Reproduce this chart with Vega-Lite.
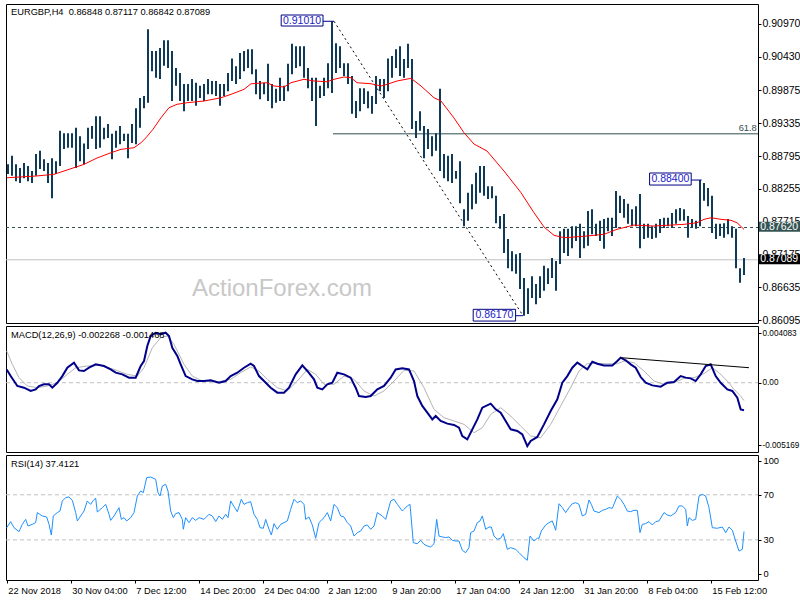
{
"$schema":"https://vega.github.io/schema/vega-lite/v6.json",
"padding":{"left":2,"top":3,"right":0,"bottom":0},
"background":"white",
"spacing":3,
"bounds":"flush",
"config":{"view":{"stroke":"#000","strokeWidth":1},"font":"Liberation Sans","axis":{"labelFont":"Liberation Sans","labelColor":"#000","tickColor":"#000","domain":false,"grid":false,"title":null,"labelFlush":false,"labelOverlap":false}},
"datasets":{
"bars":[{"k":0,"v":0.885,"v2":0.8866},{"k":1,"v":0.8847,"v2":0.888},{"k":2,"v":0.8838,"v2":0.8866},{"k":3,"v":0.8835,"v2":0.886},{"k":4,"v":0.8843,"v2":0.8868},{"k":5,"v":0.8838,"v2":0.8863},{"k":6,"v":0.8835,"v2":0.8855},{"k":7,"v":0.8847,"v2":0.8883},{"k":8,"v":0.8858,"v2":0.8888},{"k":9,"v":0.8855,"v2":0.8874},{"k":10,"v":0.8835,"v2":0.8868},{"k":11,"v":0.881,"v2":0.8876},{"k":12,"v":0.885,"v2":0.8871},{"k":13,"v":0.8863,"v2":0.8921},{"k":14,"v":0.8891,"v2":0.8917},{"k":15,"v":0.8893,"v2":0.8917},{"k":16,"v":0.8893,"v2":0.8917},{"k":17,"v":0.886,"v2":0.8926},{"k":18,"v":0.8871,"v2":0.8912},{"k":19,"v":0.8866,"v2":0.89},{"k":20,"v":0.8891,"v2":0.8926},{"k":21,"v":0.8908,"v2":0.8929},{"k":22,"v":0.8891,"v2":0.8945},{"k":23,"v":0.8893,"v2":0.8945},{"k":24,"v":0.8907,"v2":0.8926},{"k":25,"v":0.8909,"v2":0.8932},{"k":26,"v":0.8874,"v2":0.8916},{"k":27,"v":0.8893,"v2":0.8921},{"k":28,"v":0.8899,"v2":0.8929},{"k":29,"v":0.8904,"v2":0.8916},{"k":30,"v":0.8876,"v2":0.8916},{"k":31,"v":0.8901,"v2":0.8932},{"k":32,"v":0.8899,"v2":0.8958},{"k":33,"v":0.8926,"v2":0.8975},{"k":34,"v":0.8958,"v2":0.8978},{"k":35,"v":0.8967,"v2":0.9088},{"k":36,"v":0.9019,"v2":0.9052},{"k":37,"v":0.9008,"v2":0.9052},{"k":38,"v":0.9006,"v2":0.9057},{"k":39,"v":0.9028,"v2":0.907},{"k":40,"v":0.9024,"v2":0.907},{"k":41,"v":0.897,"v2":0.9052},{"k":42,"v":0.8995,"v2":0.9024},{"k":43,"v":0.897,"v2":0.9016},{"k":44,"v":0.8953,"v2":0.8998},{"k":45,"v":0.897,"v2":0.8998},{"k":46,"v":0.897,"v2":0.9006},{"k":47,"v":0.8962,"v2":0.9},{"k":48,"v":0.8975,"v2":0.8995},{"k":49,"v":0.897,"v2":0.8998},{"k":50,"v":0.8981,"v2":0.9006},{"k":51,"v":0.8981,"v2":0.9003},{"k":52,"v":0.8978,"v2":0.9003},{"k":53,"v":0.8962,"v2":0.8998},{"k":54,"v":0.8978,"v2":0.8998},{"k":55,"v":0.8986,"v2":0.9016},{"k":56,"v":0.9003,"v2":0.904},{"k":57,"v":0.8998,"v2":0.9027},{"k":58,"v":0.9006,"v2":0.9049},{"k":59,"v":0.9019,"v2":0.9052},{"k":60,"v":0.9024,"v2":0.9055},{"k":61,"v":0.9014,"v2":0.9055},{"k":62,"v":0.8981,"v2":0.9022},{"k":63,"v":0.8973,"v2":0.9003},{"k":64,"v":0.8981,"v2":0.9},{"k":65,"v":0.897,"v2":0.9031},{"k":66,"v":0.8958,"v2":0.8998},{"k":67,"v":0.8967,"v2":0.899},{"k":68,"v":0.897,"v2":0.9008},{"k":69,"v":0.897,"v2":0.8995},{"k":70,"v":0.8986,"v2":0.9031},{"k":71,"v":0.9014,"v2":0.9064},{"k":72,"v":0.9024,"v2":0.906},{"k":73,"v":0.9027,"v2":0.906},{"k":74,"v":0.9008,"v2":0.906},{"k":75,"v":0.8991,"v2":0.9024},{"k":76,"v":0.897,"v2":0.9008},{"k":77,"v":0.8929,"v2":0.9008},{"k":78,"v":0.8975,"v2":0.8995},{"k":79,"v":0.8978,"v2":0.9008},{"k":80,"v":0.8991,"v2":0.9032},{"k":81,"v":0.8983,"v2":0.9101},{"k":82,"v":0.9016,"v2":0.9065},{"k":83,"v":0.9024,"v2":0.906},{"k":84,"v":0.9011,"v2":0.9032},{"k":85,"v":0.8998,"v2":0.9032},{"k":86,"v":0.8949,"v2":0.9011},{"k":87,"v":0.8942,"v2":0.897},{"k":88,"v":0.8953,"v2":0.8991},{"k":89,"v":0.8965,"v2":0.8991},{"k":90,"v":0.8958,"v2":0.8986},{"k":91,"v":0.8949,"v2":0.8978},{"k":92,"v":0.8965,"v2":0.9011},{"k":93,"v":0.8986,"v2":0.9006},{"k":94,"v":0.8975,"v2":0.9006},{"k":95,"v":0.8986,"v2":0.904},{"k":96,"v":0.9008,"v2":0.9044},{"k":97,"v":0.9024,"v2":0.9055},{"k":98,"v":0.9011,"v2":0.906},{"k":99,"v":0.9008,"v2":0.9039},{"k":100,"v":0.9024,"v2":0.9064},{"k":101,"v":0.8924,"v2":0.9039},{"k":102,"v":0.8909,"v2":0.8937},{"k":103,"v":0.8921,"v2":0.8953},{"k":104,"v":0.8876,"v2":0.8929},{"k":105,"v":0.8891,"v2":0.8924},{"k":106,"v":0.8879,"v2":0.8912},{"k":107,"v":0.8888,"v2":0.8917},{"k":108,"v":0.8855,"v2":0.899},{"k":109,"v":0.8843,"v2":0.8883},{"k":110,"v":0.8838,"v2":0.888},{"k":111,"v":0.8835,"v2":0.8883},{"k":112,"v":0.8842,"v2":0.8855},{"k":113,"v":0.8802,"v2":0.8871},{"k":114,"v":0.8764,"v2":0.8792},{"k":115,"v":0.8773,"v2":0.8819},{"k":116,"v":0.8792,"v2":0.8833},{"k":117,"v":0.8801,"v2":0.8852},{"k":118,"v":0.8819,"v2":0.8863},{"k":119,"v":0.8814,"v2":0.8863},{"k":120,"v":0.8809,"v2":0.883},{"k":121,"v":0.881,"v2":0.883},{"k":122,"v":0.8769,"v2":0.8814},{"k":123,"v":0.876,"v2":0.8781},{"k":124,"v":0.872,"v2":0.8784},{"k":125,"v":0.8695,"v2":0.8743},{"k":126,"v":0.869,"v2":0.8723},{"k":127,"v":0.8686,"v2":0.8718},{"k":128,"v":0.8661,"v2":0.872},{"k":129,"v":0.8617,"v2":0.8679},{"k":130,"v":0.862,"v2":0.8662},{"k":131,"v":0.8646,"v2":0.8682},{"k":132,"v":0.8636,"v2":0.8669},{"k":133,"v":0.8646,"v2":0.8682},{"k":134,"v":0.8658,"v2":0.8699},{"k":135,"v":0.8669,"v2":0.8695},{"k":136,"v":0.8679,"v2":0.8712},{"k":137,"v":0.8658,"v2":0.8707},{"k":138,"v":0.8702,"v2":0.8756},{"k":139,"v":0.872,"v2":0.876},{"k":140,"v":0.8715,"v2":0.876},{"k":141,"v":0.8728,"v2":0.8764},{"k":142,"v":0.874,"v2":0.8764},{"k":143,"v":0.8712,"v2":0.8768},{"k":144,"v":0.8728,"v2":0.8756},{"k":145,"v":0.8732,"v2":0.8789},{"k":146,"v":0.8751,"v2":0.8792},{"k":147,"v":0.8748,"v2":0.8768},{"k":148,"v":0.874,"v2":0.8773},{"k":149,"v":0.8727,"v2":0.8776},{"k":150,"v":0.8756,"v2":0.8778},{"k":151,"v":0.8748,"v2":0.8778},{"k":152,"v":0.8761,"v2":0.8822},{"k":153,"v":0.8786,"v2":0.8814},{"k":154,"v":0.8778,"v2":0.8809},{"k":155,"v":0.8768,"v2":0.8801},{"k":156,"v":0.8764,"v2":0.8792},{"k":157,"v":0.8764,"v2":0.8797},{"k":158,"v":0.8728,"v2":0.8817},{"k":159,"v":0.8743,"v2":0.8768},{"k":160,"v":0.8745,"v2":0.8768},{"k":161,"v":0.8743,"v2":0.8764},{"k":162,"v":0.8745,"v2":0.8768},{"k":163,"v":0.8753,"v2":0.8776},{"k":164,"v":0.8761,"v2":0.8778},{"k":165,"v":0.8764,"v2":0.8778},{"k":166,"v":0.8761,"v2":0.8786},{"k":167,"v":0.8768,"v2":0.8792},{"k":168,"v":0.8773,"v2":0.8794},{"k":169,"v":0.8773,"v2":0.8792},{"k":170,"v":0.8745,"v2":0.8781},{"k":171,"v":0.8761,"v2":0.8776},{"k":172,"v":0.876,"v2":0.8773},{"k":173,"v":0.8764,"v2":0.884},{"k":174,"v":0.8806,"v2":0.8835},{"k":175,"v":0.8797,"v2":0.8827},{"k":176,"v":0.8753,"v2":0.8814},{"k":177,"v":0.8743,"v2":0.8768},{"k":178,"v":0.8748,"v2":0.8768},{"k":179,"v":0.8745,"v2":0.8769},{"k":180,"v":0.8751,"v2":0.8776},{"k":181,"v":0.8745,"v2":0.8764},{"k":182,"v":0.8695,"v2":0.876},{"k":183,"v":0.8671,"v2":0.8695},{"k":184,"v":0.8684,"v2":0.8712}],
"ma":[{"k":-0.25,"v":0.88438},{"k":7,"v":0.88466},{"k":11.5,"v":0.88494},{"k":19,"v":0.88658},{"k":22.25,"v":0.88762},{"k":25.75,"v":0.88849},{"k":28.25,"v":0.88905},{"k":31.5,"v":0.88931},{"k":33.25,"v":0.89014},{"k":34.5,"v":0.89096},{"k":36.25,"v":0.89234},{"k":38.25,"v":0.89425},{"k":40.25,"v":0.89589},{"k":42.25,"v":0.89645},{"k":44.75,"v":0.89671},{"k":49,"v":0.89699},{"k":53.25,"v":0.89753},{"k":55.75,"v":0.89809},{"k":59,"v":0.89891},{"k":60.75,"v":0.89983},{"k":64.75,"v":0.9},{"k":66.5,"v":0.89946},{"k":69,"v":0.89929},{"k":70.75,"v":0.9},{"k":74,"v":0.90056},{"k":76.5,"v":0.90028},{"k":79.75,"v":0.90016},{"k":81.5,"v":0.90056},{"k":84,"v":0.90094},{"k":85.75,"v":0.90082},{"k":87.25,"v":0.9},{"k":90.75,"v":0.89983},{"k":93.25,"v":0.89946},{"k":94.75,"v":0.89974},{"k":97.25,"v":0.90028},{"k":100.75,"v":0.90072},{"k":103.25,"v":0.89946},{"k":106.5,"v":0.89753},{"k":108.25,"v":0.89699},{"k":111.5,"v":0.8942},{"k":114,"v":0.89178},{"k":116.5,"v":0.88992},{"k":119.75,"v":0.88877},{"k":124,"v":0.88548},{"k":128.25,"v":0.88192},{"k":131.5,"v":0.87863},{"k":134,"v":0.87628},{"k":136.5,"v":0.87491},{"k":139,"v":0.87452},{"k":141.5,"v":0.87463},{"k":144.75,"v":0.8748},{"k":149,"v":0.87508},{"k":152.25,"v":0.8759},{"k":156.5,"v":0.8766},{"k":161.5,"v":0.87644},{"k":165.75,"v":0.8766},{"k":169,"v":0.87672},{"k":172.25,"v":0.87698},{"k":174,"v":0.87754},{"k":175.75,"v":0.8778},{"k":178.25,"v":0.87754},{"k":180.75,"v":0.87738},{"k":182.25,"v":0.87698},{"k":184,"v":0.8759}],
"macd":[{"k":-0.33,"v":0.0011},{"k":0.67,"v":0.00055},{"k":2.33,"v":-0.00027},{"k":4,"v":-0.00041},{"k":5.67,"v":-0.00068},{"k":6.92,"v":-0.00055},{"k":7.75,"v":-0.00027},{"k":9,"v":-0.00013},{"k":10.25,"v":-0.00013},{"k":11.08,"v":-0.00041},{"k":12.33,"v":0},{"k":13.58,"v":0.00055},{"k":14.83,"v":0.00124},{"k":16.5,"v":0.00166},{"k":17.75,"v":0.00102},{"k":19,"v":0.00097},{"k":20.25,"v":0.00124},{"k":21.92,"v":0.00152},{"k":24,"v":0.00138},{"k":25.67,"v":0.0011},{"k":26.92,"v":0.00083},{"k":28.58,"v":0.00069},{"k":30.25,"v":0.00042},{"k":31.92,"v":0.00042},{"k":33.17,"v":0.00138},{"k":34,"v":0.00179},{"k":34.83,"v":0.00303},{"k":35.67,"v":0.00386},{"k":36.92,"v":0.00413},{"k":38.17,"v":0.004},{"k":39.42,"v":0.00413},{"k":40.25,"v":0.00386},{"k":41.08,"v":0.00289},{"k":42.33,"v":0.00221},{"k":43.17,"v":0.00152},{"k":44.42,"v":0.00055},{"k":46.08,"v":0.00028},{"k":47.33,"v":0.00014},{"k":49,"v":0.00014},{"k":50.67,"v":0.0002},{"k":52.75,"v":0},{"k":54.42,"v":0.00014},{"k":55.67,"v":0.00055},{"k":57.33,"v":0.00083},{"k":59,"v":0.00124},{"k":60.67,"v":0.00157},{"k":61.5,"v":0.00138},{"k":62.75,"v":0.00055},{"k":64,"v":0.00014},{"k":65.67,"v":-0.00041},{"k":67.33,"v":-0.00082},{"k":69,"v":-0.00082},{"k":70.25,"v":-0.00041},{"k":71.92,"v":0.00069},{"k":73.58,"v":0.00143},{"k":74.83,"v":0.00097},{"k":76.5,"v":0.00028},{"k":77.33,"v":-0.00041},{"k":78.58,"v":-0.00055},{"k":79.83,"v":-0.00013},{"k":81.08,"v":0},{"k":82.33,"v":0.00083},{"k":84,"v":0.00069},{"k":85.67,"v":0.00042},{"k":86.92,"v":-0.00041},{"k":87.75,"v":-0.0011},{"k":89.42,"v":-0.00118},{"k":90.67,"v":-0.0011},{"k":92.33,"v":-0.00055},{"k":94,"v":-0.00027},{"k":95.67,"v":0.00042},{"k":96.92,"v":0.0011},{"k":98.58,"v":0.00119},{"k":100.25,"v":0.0011},{"k":101.5,"v":0.00014},{"k":102.33,"v":-0.0011},{"k":103.58,"v":-0.00192},{"k":104.83,"v":-0.00247},{"k":106.08,"v":-0.00303},{"k":106.92,"v":-0.00275},{"k":108.17,"v":-0.00316},{"k":109.83,"v":-0.00338},{"k":111.5,"v":-0.00349},{"k":112.75,"v":-0.00371},{"k":113.58,"v":-0.0044},{"k":114.83,"v":-0.00468},{"k":116.08,"v":-0.00385},{"k":117.33,"v":-0.00303},{"k":118.58,"v":-0.00206},{"k":120.67,"v":-0.00173},{"k":121.92,"v":-0.0022},{"k":123.17,"v":-0.00247},{"k":124.42,"v":-0.00316},{"k":125.67,"v":-0.00385},{"k":127.33,"v":-0.00399},{"k":128.58,"v":-0.00426},{"k":129.83,"v":-0.00523},{"k":130.67,"v":-0.00481},{"k":132.33,"v":-0.00448},{"k":134,"v":-0.00344},{"k":135.67,"v":-0.00234},{"k":137.33,"v":-0.00137},{"k":138.58,"v":0},{"k":139.83,"v":0.00055},{"k":141.08,"v":0.00124},{"k":142.33,"v":0.00166},{"k":143.58,"v":0.00138},{"k":144.83,"v":0.0011},{"k":146.08,"v":0.00174},{"k":147.33,"v":0.00157},{"k":149,"v":0.00143},{"k":151.08,"v":0.00143},{"k":152.33,"v":0.00179},{"k":153.17,"v":0.00207},{"k":154.42,"v":0.00185},{"k":155.67,"v":0.00152},{"k":156.92,"v":0.00124},{"k":158.17,"v":0.00047},{"k":159.42,"v":0},{"k":161.08,"v":-0.00022},{"k":163.17,"v":-0.00033},{"k":164.83,"v":0},{"k":166.5,"v":0.00006},{"k":168.17,"v":0.00055},{"k":169.42,"v":0.00042},{"k":170.67,"v":0.00036},{"k":171.92,"v":0.00014},{"k":173.17,"v":0.00069},{"k":174.42,"v":0.00138},{"k":175.67,"v":0.00152},{"k":176.92,"v":0.00055},{"k":178.17,"v":0},{"k":179.83,"v":-0.00055},{"k":181.08,"v":-0.00068},{"k":182.33,"v":-0.00124},{"k":183.17,"v":-0.0022},{"k":184,"v":-0.00227}],
"sig":[{"k":-0.33,"v":0.00262},{"k":1.08,"v":0.00152},{"k":2.75,"v":0.00042},{"k":4.83,"v":-0.00027},{"k":7.33,"v":-0.00041},{"k":9.83,"v":-0.00027},{"k":12.33,"v":0},{"k":14.83,"v":0.00069},{"k":16.92,"v":0.00124},{"k":19.83,"v":0.00138},{"k":23.17,"v":0.00143},{"k":26.5,"v":0.0011},{"k":29.83,"v":0.00069},{"k":32.33,"v":0.00055},{"k":34,"v":0.00124},{"k":36.08,"v":0.00289},{"k":38.17,"v":0.00372},{"k":39.83,"v":0.00386},{"k":41.5,"v":0.00317},{"k":44,"v":0.00152},{"k":46.08,"v":0.00055},{"k":48.58,"v":0.00014},{"k":52.33,"v":0.00006},{"k":55.67,"v":0.00028},{"k":58.17,"v":0.00083},{"k":60.67,"v":0.0013},{"k":62.75,"v":0.00097},{"k":64.83,"v":0.00028},{"k":67.33,"v":-0.00041},{"k":69.83,"v":-0.00068},{"k":72.33,"v":0.00014},{"k":74.83,"v":0.0011},{"k":76.92,"v":0.00069},{"k":79,"v":-0.00013},{"k":81.5,"v":-0.00013},{"k":84,"v":0.00055},{"k":86.5,"v":0.00028},{"k":89,"v":-0.00068},{"k":91.5,"v":-0.0011},{"k":94,"v":-0.00068},{"k":96.5,"v":0.00014},{"k":99,"v":0.00102},{"k":101.5,"v":0.00097},{"k":104,"v":-0.00041},{"k":106.5,"v":-0.0022},{"k":109,"v":-0.00289},{"k":111.5,"v":-0.00316},{"k":114,"v":-0.00344},{"k":116.5,"v":-0.00413},{"k":118.58,"v":-0.00371},{"k":120.67,"v":-0.00261},{"k":123.17,"v":-0.00206},{"k":125.67,"v":-0.00275},{"k":128.17,"v":-0.00358},{"k":130.67,"v":-0.0044},{"k":133.17,"v":-0.00454},{"k":135.67,"v":-0.00344},{"k":138.17,"v":-0.00192},{"k":140.67,"v":-0.00041},{"k":142.75,"v":0.00097},{"k":144.83,"v":0.00157},{"k":147.33,"v":0.0016},{"k":149.83,"v":0.00157},{"k":152.33,"v":0.00157},{"k":154,"v":0.00179},{"k":156.5,"v":0.00166},{"k":159,"v":0.00097},{"k":161.5,"v":0.00014},{"k":164,"v":-0.00013},{"k":166.5,"v":0},{"k":169,"v":0.00036},{"k":171.5,"v":0.00042},{"k":174,"v":0.00075},{"k":176.08,"v":0.00124},{"k":177.75,"v":0.00083},{"k":179.83,"v":0.00014},{"k":181.5,"v":-0.00055},{"k":183.17,"v":-0.0011},{"k":184,"v":-0.00147}],
"rsi":[{"k":-0.33,"v":40.8},{"k":0.67,"v":46.2},{"k":1.5,"v":40.8},{"k":2.75,"v":37.3},{"k":3.58,"v":43.8},{"k":4.42,"v":48.2},{"k":5,"v":42.3},{"k":6.08,"v":43.8},{"k":6.92,"v":45.3},{"k":7.33,"v":54.2},{"k":8.58,"v":51.2},{"k":9.67,"v":50.3},{"k":10.25,"v":43.8},{"k":10.83,"v":34.3},{"k":11.33,"v":51.2},{"k":12.33,"v":54.2},{"k":13,"v":55.6},{"k":13.58,"v":64.5},{"k":14.42,"v":67.5},{"k":15.25,"v":68.1},{"k":16.08,"v":65.1},{"k":16.92,"v":54.2},{"k":17.33,"v":46.8},{"k":18.17,"v":51.2},{"k":19,"v":55.6},{"k":19.42,"v":60.1},{"k":19.83,"v":64.5},{"k":20.67,"v":61.5},{"k":21.33,"v":65.1},{"k":21.92,"v":66.9},{"k":22.33,"v":54.7},{"k":23.58,"v":58.6},{"k":24.42,"v":61.5},{"k":25.25,"v":52.7},{"k":25.67,"v":47.3},{"k":26.5,"v":51.2},{"k":27.75,"v":58.6},{"k":28.33,"v":48.2},{"k":29,"v":49.7},{"k":29.67,"v":46.8},{"k":30.67,"v":49.7},{"k":31.5,"v":54.2},{"k":32.33,"v":68.9},{"k":33.17,"v":73.4},{"k":33.83,"v":71.9},{"k":34.67,"v":85.2},{"k":35.67,"v":85.8},{"k":36.92,"v":83.7},{"k":37.5,"v":71.9},{"k":38,"v":68.9},{"k":38.58,"v":77.8},{"k":39.42,"v":79.3},{"k":40,"v":73.4},{"k":40.67,"v":55.6},{"k":41.33,"v":49.7},{"k":41.92,"v":53.3},{"k":42.75,"v":54.2},{"k":43.58,"v":48.2},{"k":43.83,"v":39.4},{"k":44.42,"v":49.7},{"k":45.25,"v":45.3},{"k":46.08,"v":49.7},{"k":46.92,"v":47.3},{"k":47.75,"v":49.7},{"k":49,"v":48.2},{"k":50.25,"v":52.7},{"k":51.08,"v":51.2},{"k":51.92,"v":46.2},{"k":52.75,"v":51.2},{"k":53.58,"v":48.2},{"k":54.42,"v":52.7},{"k":55,"v":49.7},{"k":55.67,"v":64.5},{"k":56.67,"v":58.6},{"k":57.33,"v":55},{"k":58.33,"v":66},{"k":59,"v":61.5},{"k":59.83,"v":63},{"k":60.67,"v":63.9},{"k":61.5,"v":52.7},{"k":62.33,"v":48.2},{"k":63,"v":40.8},{"k":63.83,"v":40.3},{"k":64.42,"v":48.2},{"k":65.25,"v":39.4},{"k":65.83,"v":34.3},{"k":66.5,"v":44.4},{"k":67.33,"v":39.4},{"k":68.17,"v":43.8},{"k":69,"v":45.3},{"k":69.83,"v":46.8},{"k":70.67,"v":57.1},{"k":71.5,"v":66},{"k":72.33,"v":63},{"k":73.17,"v":64.5},{"k":74,"v":61.5},{"k":74.42,"v":48.2},{"k":75.25,"v":50.3},{"k":76.08,"v":43.2},{"k":76.92,"v":31.4},{"k":77.75,"v":45.3},{"k":79,"v":49.7},{"k":79.83,"v":54.2},{"k":80.67,"v":46.8},{"k":81.5,"v":61.5},{"k":82.33,"v":58.6},{"k":83.17,"v":51.2},{"k":84,"v":50.3},{"k":84.83,"v":45.3},{"k":85.67,"v":42.3},{"k":86.5,"v":33.4},{"k":87.33,"v":36.4},{"k":88.17,"v":37.9},{"k":89,"v":42.3},{"k":89.83,"v":43.2},{"k":90.67,"v":39.4},{"k":91.5,"v":42.3},{"k":92.33,"v":54.2},{"k":93.58,"v":51.2},{"k":94.42,"v":48.2},{"k":95.67,"v":64.5},{"k":96.5,"v":66},{"k":97.33,"v":61.5},{"k":98.58,"v":55.6},{"k":99,"v":57.1},{"k":99.83,"v":60.1},{"k":100.5,"v":61.5},{"k":101.33,"v":27.5},{"k":102.33,"v":26.6},{"k":103.17,"v":29.6},{"k":104,"v":26.1},{"k":104.83,"v":24.6},{"k":105.67,"v":23.7},{"k":106.5,"v":26.6},{"k":107.17,"v":48.2},{"k":107.75,"v":33.4},{"k":108.58,"v":32.6},{"k":109.42,"v":32},{"k":110.25,"v":32.6},{"k":111.08,"v":29.6},{"k":111.92,"v":29},{"k":112.75,"v":29},{"k":113.58,"v":20.7},{"k":114.42,"v":18.7},{"k":115.25,"v":23.1},{"k":115.67,"v":36.4},{"k":116.5,"v":37.9},{"k":117.33,"v":45.3},{"k":118,"v":46.8},{"k":118.58,"v":51.2},{"k":119.42,"v":39.4},{"k":120.25,"v":41.4},{"k":120.83,"v":41.4},{"k":121.5,"v":33.4},{"k":122.33,"v":30.5},{"k":123.17,"v":31.4},{"k":123.83,"v":35.5},{"k":124.42,"v":27.5},{"k":124.83,"v":21.6},{"k":125.67,"v":23.1},{"k":126.92,"v":21.6},{"k":127.75,"v":18.7},{"k":129,"v":14.2},{"k":129.83,"v":11.9},{"k":130.5,"v":33.4},{"k":131.5,"v":29},{"k":132.33,"v":31.4},{"k":132.75,"v":31.4},{"k":133.33,"v":37.9},{"k":134.42,"v":43.2},{"k":135.25,"v":45.3},{"k":136.08,"v":46.8},{"k":136.92,"v":38.5},{"k":137.75,"v":62.1},{"k":138.58,"v":58.6},{"k":139.42,"v":54.2},{"k":140.25,"v":58.6},{"k":141.08,"v":62.1},{"k":141.92,"v":63},{"k":142.75,"v":61.5},{"k":143.58,"v":51.2},{"k":144.42,"v":52.7},{"k":145.25,"v":65.4},{"k":145.83,"v":61.5},{"k":146.5,"v":55.6},{"k":147.75,"v":54.2},{"k":148.58,"v":56.2},{"k":149.42,"v":57.1},{"k":150.25,"v":58.6},{"k":151.08,"v":58},{"k":152.33,"v":68.9},{"k":153.17,"v":66},{"k":154,"v":61.5},{"k":154.83,"v":55.6},{"k":155.67,"v":55},{"k":156.5,"v":56.2},{"k":157.33,"v":56.2},{"k":158,"v":36.4},{"k":158.58,"v":43.8},{"k":159.42,"v":44.4},{"k":160.25,"v":46.2},{"k":161.08,"v":43.2},{"k":161.92,"v":46.2},{"k":162.75,"v":46.8},{"k":164,"v":54.2},{"k":164.83,"v":52.1},{"k":165.67,"v":51.2},{"k":166.92,"v":54.2},{"k":167.75,"v":60.1},{"k":168.58,"v":60.1},{"k":169.42,"v":57.1},{"k":169.83,"v":42.3},{"k":170.25,"v":49.7},{"k":171.08,"v":47.3},{"k":171.92,"v":48.2},{"k":172.75,"v":68.9},{"k":173.58,"v":70.4},{"k":174.42,"v":68.9},{"k":175.25,"v":58.6},{"k":176.08,"v":40.8},{"k":177.33,"v":40.3},{"k":178.58,"v":41.4},{"k":179.42,"v":36.4},{"k":180.25,"v":41.4},{"k":181.08,"v":38.5},{"k":181.92,"v":29},{"k":182.75,"v":20.1},{"k":183.58,"v":21.6},{"k":184,"v":37.4}]
},
"vconcat":[
{"width":752,"height":319,
"encoding":{
"x":{"field":"k","type":"quantitative","scale":{"domain":[-0.5,187.5],"nice":false,"zero":false},"axis":null},
"y":{"field":"v","type":"quantitative","scale":{"domain":[0.8605,0.91294],"nice":false,"zero":false},"axis":{"orient":"right","values":[0.9097,0.9043,0.89875,0.89335,0.88795,0.88255,0.87715,0.87175,0.86635,0.86095],"format":".5f","labelFontSize":10.5,"tickSize":3,"labelPadding":1}}},
"layer":[
{"data":{"values":[{"k":68.5,"v":0.86608,"t":"ActionForex.com"}]},"mark":{"type":"text","fontSize":24,"color":"#c8c8c8","font":"Liberation Sans"},"encoding":{"text":{"field":"t"}}},
{"data":{"values":[{"k":-0.5,"k2":187.5,"v":0.87089}]},"mark":{"type":"rule","color":"#c0c0c0","strokeWidth":1},"encoding":{"x2":{"field":"k2"}}},
{"data":{"values":[{"k":-0.5,"k2":187.5,"v":0.8762}]},"mark":{"type":"rule","color":"#2f4f4f","strokeWidth":1,"strokeDash":[3,3]},"encoding":{"x2":{"field":"k2"}}},
{"data":{"values":[{"k":81.25,"k2":187.5,"v":0.8916}]},"mark":{"type":"rule","color":"#2f4f4f","strokeWidth":1},"encoding":{"x2":{"field":"k2"}}},
{"data":{"values":[{"k":81.5,"v":0.9101,"k2":128.75,"v2":0.8617}]},"mark":{"type":"rule","color":"#000","strokeWidth":1,"strokeDash":[2,3]},"encoding":{"x2":{"field":"k2"},"y2":{"field":"v2"}}},
{"data":{"name":"bars"},"mark":{"type":"rule","color":"#0f3a58","strokeWidth":2},"encoding":{"y2":{"field":"v2"}}},
{"data":{"name":"ma"},"mark":{"type":"line","color":"#ff0000","strokeWidth":1},"encoding":{}},
{"data":{"values":[{"k":78.75,"k2":81.5,"v":0.9101},{"k":126.9,"k2":128.75,"v":0.8617},{"k":170.8,"k2":173.4,"v":0.884}]},"mark":{"type":"rule","color":"#000080","strokeWidth":1},"encoding":{"x2":{"field":"k2"}}},
{"data":{"values":[{"k":68.3,"k2":78.75,"v":0.90932,"v2":0.91113},{"k":116.3,"k2":126.9,"v":0.86082,"v2":0.86275},{"k":160.4,"k2":170.8,"v":0.88318,"v2":0.88516}]},"mark":{"type":"rect","fill":"white","stroke":"#000080","strokeWidth":1},"encoding":{"x2":{"field":"k2"},"y2":{"field":"v2"}}},
{"data":{"values":[{"k":73.5,"v":0.91022,"t":"0.91010"},{"k":121.6,"v":0.86178,"t":"0.86170"},{"k":165.6,"v":0.88417,"t":"0.88400"}]},"mark":{"type":"text","fontSize":10.5,"color":"#2020c8","align":"center","baseline":"middle"},"encoding":{"text":{"field":"t"}}},
{"data":{"values":[{"k":0.75,"v":0.91162,"t":"EURGBP,H4\u00a0 0.86848 0.87117 0.86842 0.87089"}]},"mark":{"type":"text","fontSize":9.3,"color":"#000","align":"left","baseline":"middle"},"encoding":{"text":{"field":"t"}}},
{"data":{"values":[{"k":187.2,"v":0.89255,"t":"61.8"}]},"mark":{"type":"text","fontSize":9.3,"color":"#2f4f4f","align":"right","baseline":"middle"},"encoding":{"text":{"field":"t"}}},
{"data":{"values":[{"k":187.75,"k2":198.5,"v":0.8755,"v2":0.87715}]},"mark":{"type":"rect","fill":"#355555"},"encoding":{"x2":{"field":"k2"},"y2":{"field":"v2"}}},
{"data":{"values":[{"k":187.75,"k2":198.5,"v":0.87014,"v2":0.87179}]},"mark":{"type":"rect","fill":"#000"},"encoding":{"x2":{"field":"k2"},"y2":{"field":"v2"}}},
{"data":{"values":[{"k":192.8,"v":0.87632,"t":"0.87620"},{"k":192.8,"v":0.87097,"t":"0.87089"}]},"mark":{"type":"text","fontSize":10.5,"color":"#fff","align":"center","baseline":"middle"},"encoding":{"text":{"field":"t"}}}
]},
{"width":752,"height":126,
"encoding":{
"x":{"field":"k","type":"quantitative","scale":{"domain":[-0.5,187.5],"nice":false,"zero":false},"axis":null},
"y":{"field":"v","type":"quantitative","scale":{"domain":[-0.005722,0.004686],"nice":false,"zero":false},"axis":{"orient":"right","values":[0.004083,0,-0.005169],"labelExpr":"datum.value > 0.001 ? '0.004083' : (datum.value < -0.001 ? '-0.005169' : '0.00')","labelFontSize":8.2,"tickSize":3,"labelPadding":1}}},
"layer":[
{"data":{"values":[{"k":-0.5,"k2":187.5,"v":0}]},"mark":{"type":"rule","color":"#c0c0c0","strokeWidth":1,"strokeDash":[4,3]},"encoding":{"x2":{"field":"k2"}}},
{"data":{"name":"sig"},"mark":{"type":"line","color":"#b4b4b4","strokeWidth":1},"encoding":{}},
{"data":{"name":"macd"},"mark":{"type":"line","color":"#00008b","strokeWidth":2},"encoding":{}},
{"data":{"values":[{"k":153.2,"v":0.00207,"k2":185.25,"v2":0.00124}]},"mark":{"type":"rule","color":"#000","strokeWidth":1},"encoding":{"x2":{"field":"k2"},"y2":{"field":"v2"}}},
{"data":{"values":[{"k":0.75,"v":0.00394,"t":"MACD(12,26,9) -0.002268 -0.001468"}]},"mark":{"type":"text","fontSize":9.3,"color":"#000","align":"left","baseline":"middle"},"encoding":{"text":{"field":"t"}}}
]},
{"width":752,"height":125,
"encoding":{
"x":{"field":"k","type":"quantitative","scale":{"domain":[-0.5,187.5],"nice":false,"zero":false},"axis":{"orient":"bottom","values":[-0.3,15.7,31.7,47.7,63.7,79.7,95.7,111.7,127.7,143.7,159.7,175.7],"labelExpr":"['22 Nov 2018','30 Nov 04:00','7 Dec 12:00','14 Dec 20:00','24 Dec 04:00','2 Jan 12:00','9 Jan 20:00','17 Jan 04:00','24 Jan 12:00','31 Jan 20:00','8 Feb 04:00','15 Feb 12:00'][round((datum.value+0.3)/16)]","labelAlign":"left","labelBaseline":"top","labelFontSize":9.3,"tickSize":3,"labelPadding":3,"labelOffset":1}},
"y":{"field":"v","type":"quantitative","scale":{"domain":[-5.6,105.3],"nice":false,"zero":false},"axis":{"orient":"right","values":[100,70,30,0],"format":"d","labelFontSize":9.3,"tickSize":3,"labelPadding":2}}},
"layer":[
{"data":{"values":[{"k":-0.5,"k2":187.5,"v":70},{"k":-0.5,"k2":187.5,"v":30}]},"mark":{"type":"rule","color":"#c0c0c0","strokeWidth":1,"strokeDash":[4,3]},"encoding":{"x2":{"field":"k2"}}},
{"data":{"name":"rsi"},"mark":{"type":"line","color":"#1e90ff","strokeWidth":1},"encoding":{}},
{"data":{"values":[{"k":0.75,"v":97.3,"t":"RSI(14) 37.4121"}]},"mark":{"type":"text","fontSize":9.3,"color":"#000","align":"left","baseline":"middle"},"encoding":{"text":{"field":"t"}}}
]}
]
}
